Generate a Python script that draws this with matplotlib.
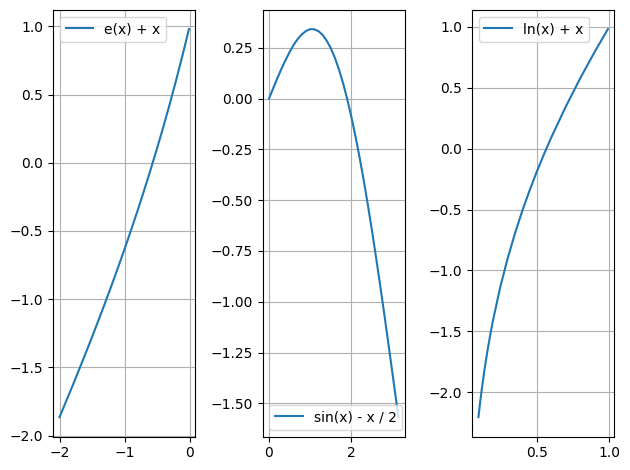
import matplotlib
matplotlib.use("Agg")
import matplotlib.pyplot as plt

# e(x) + x
exp_x = [-2.0, -1.9, -1.8, -1.7, -1.6, -1.5, -1.4, -1.3, -1.2, -1.1, -1.0,
         -0.9, -0.8, -0.7, -0.6, -0.5, -0.4, -0.3, -0.2, -0.1, -0.01]
exp_y = [-1.865, -1.750, -1.635, -1.517, -1.398, -1.277, -1.153, -1.028, -0.899, -0.767, -0.632,
         -0.493, -0.351, -0.203, -0.051, 0.107, 0.270, 0.441, 0.619, 0.805, 0.980]

# sin(x) - x / 2, middle panel
sin_x = [0.0, 0.1, 0.2, 0.3, 0.4, 0.5, 0.6, 0.7, 0.8, 0.9, 1.0, 1.1, 1.2, 1.3, 1.4, 1.5,
         1.6, 1.7, 1.8, 1.9, 2.0, 2.1, 2.2, 2.3, 2.4, 2.5, 2.6, 2.7, 2.8, 2.9, 3.0, 3.1, 3.14]
sin_y = [0.0, 0.050, 0.099, 0.146, 0.189, 0.229, 0.265, 0.294, 0.317, 0.333, 0.342, 0.341,
         0.332, 0.314, 0.285, 0.248, 0.200, 0.142, 0.074, -0.004, -0.091, -0.187, -0.292,
         -0.404, -0.525, -0.652, -0.785, -0.923, -1.065, -1.211, -1.359, -1.508, -1.568]

# ln(x) + x, right panel
ln_x = [0.10, 0.11, 0.12, 0.14, 0.16, 0.18, 0.20, 0.25, 0.30, 0.35, 0.40, 0.45,
        0.50, 0.55, 0.60, 0.70, 0.80, 0.90, 0.99]
ln_y = [-2.203, -2.097, -2.000, -1.826, -1.673, -1.535, -1.409, -1.136, -0.904, -0.700, -0.516, -0.349,
        -0.193, -0.048, 0.089, 0.343, 0.577, 0.795, 0.980]

fig, axes = plt.subplots(1, 3, figsize=(6.3, 4.7), dpi=100)

axes[0].plot(exp_x, exp_y, label="e(x) + x")
axes[0].legend(loc="upper left")

axes[1].plot(sin_x, sin_y, label="sin(x) - x / 2")
axes[1].legend(loc="lower left")

axes[2].plot(ln_x, ln_y, label="ln(x) + x")
axes[2].legend(loc="upper left")

for ax in axes:
    ax.grid(True)

fig.tight_layout(pad=0.7, w_pad=1.08)
fig.savefig("out.png", dpi=100)
